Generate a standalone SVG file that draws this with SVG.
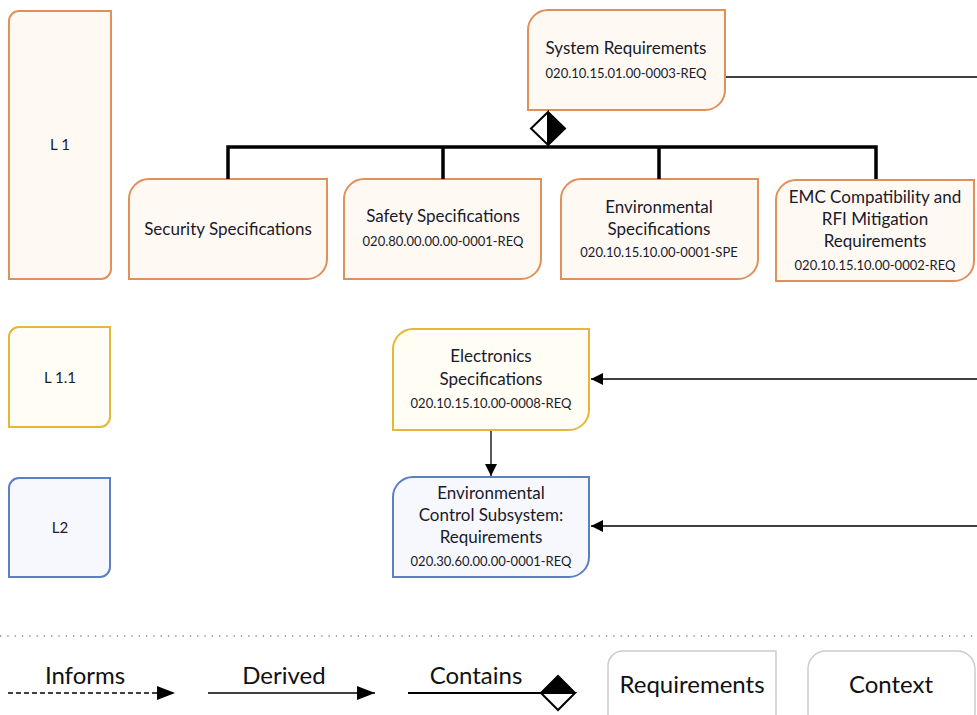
<svg xmlns="http://www.w3.org/2000/svg" width="977" height="715" viewBox="0 0 977 715">
<defs>
<style>
.l1{fill:#FFF9F4;stroke:#E0915A;stroke-width:2}
.l11{fill:#FFFDF4;stroke:#E3B73A;stroke-width:2}
.l2{fill:#F6F8FE;stroke:#5B7FC0;stroke-width:2}
text{font-family:"Lato","Open Sans",sans-serif;fill:#1a1a2a;text-anchor:middle}
.t{font-size:17px}
.c{font-size:13px}
.lv{font-size:15px}
.lg{font-size:24px;fill:#111}
.bus{fill:none;stroke:#000;stroke-width:3.5}
.thin{fill:none;stroke:#000;stroke-width:1.3}
.leg{fill:#fff;stroke:#ccc;stroke-width:1.5}
</style>
<marker id="arr" viewBox="0 0 10 10" refX="10" refY="5" markerWidth="12" markerHeight="12" markerUnits="userSpaceOnUse" orient="auto"><path d="M0,0 L10,5 L0,10 Z" fill="#000"/></marker>
<marker id="arrL" viewBox="0 0 10 10" refX="10" refY="5" markerWidth="18" markerHeight="14" markerUnits="userSpaceOnUse" orient="auto" preserveAspectRatio="none"><path d="M0,0 L10,5 L0,10 Z" fill="#000"/></marker>
</defs>

<g id="level-L1"><path class="l1" d="M19 11 H111 V269 A10 10 0 0 1 101 279 H9 V21 A10 10 0 0 1 19 11 Z"/><text class="lv" x="60" y="150">L 1</text></g>
<g id="level-L1.1"><path class="l11" d="M19 327 H110 V417 A10 10 0 0 1 100 427 H9 V337 A10 10 0 0 1 19 327 Z"/><text class="lv" x="60" y="383">L 1.1</text></g>
<g id="level-L2"><path class="l2" d="M19 478 H110 V567 A10 10 0 0 1 100 577 H9 V488 A10 10 0 0 1 19 478 Z"/><text class="lv" x="60" y="533">L2</text></g>

<g id="system-requirements"><path class="l1" d="M548 10 H725 V90 A20 20 0 0 1 705 110 H528 V30 A20 20 0 0 1 548 10 Z"/>
<text class="t" x="626" y="54">System Requirements</text><text class="c" x="626" y="78">020.10.15.01.00-0003-REQ</text></g>

<g id="security-specifications"><path class="l1" d="M149 179 H327 V259 A20 20 0 0 1 307 279 H129 V199 A20 20 0 0 1 149 179 Z"/>
<text class="t" x="228" y="235">Security Specifications</text></g>

<g id="safety-specifications"><path class="l1" d="M364 179 H541 V259 A20 20 0 0 1 521 279 H344 V199 A20 20 0 0 1 364 179 Z"/>
<text class="t" x="443" y="222">Safety Specifications</text><text class="c" x="443" y="246">020.80.00.00.00-0001-REQ</text></g>

<g id="environmental-specifications"><path class="l1" d="M581 179 H758 V259 A20 20 0 0 1 738 279 H561 V199 A20 20 0 0 1 581 179 Z"/>
<text class="t" x="659" y="213">Environmental</text><text class="t" x="659" y="235">Specifications</text><text class="c" x="659" y="257">020.10.15.10.00-0001-SPE</text></g>

<g id="emc-compatibility"><path class="l1" d="M796 180 H974 V261 A20 20 0 0 1 954 281 H776 V200 A20 20 0 0 1 796 180 Z"/>
<text class="t" x="875" y="203">EMC Compatibility and</text><text class="t" x="875" y="225">RFI Mitigation</text><text class="t" x="875" y="247">Requirements</text><text class="c" x="875" y="270">020.10.15.10.00-0002-REQ</text></g>

<g id="electronics-specifications"><path class="l11" d="M413 329 H589 V410 A20 20 0 0 1 569 430 H393 V349 A20 20 0 0 1 413 329 Z"/>
<text class="t" x="491" y="362">Electronics</text><text class="t" x="491" y="385">Specifications</text><text class="c" x="491" y="408">020.10.15.10.00-0008-REQ</text></g>

<g id="ecs-requirements"><path class="l2" d="M413 477 H589 V557 A20 20 0 0 1 569 577 H393 V497 A20 20 0 0 1 413 477 Z"/>
<text class="t" x="491" y="499">Environmental</text><text class="t" x="491" y="521">Control Subsystem:</text><text class="t" x="491" y="543">Requirements</text><text class="c" x="491" y="566">020.30.60.00.00-0001-REQ</text></g>

<g id="connectors">
<path d="M548 112 L565 128.5 L548 145 Z" fill="#000"/>
<path d="M548 112 L531 128.5 L548 145 Z" fill="#fff" stroke="#000" stroke-width="2"/>
<path d="M548 112 L565 128.5 L548 145" fill="none" stroke="#000" stroke-width="2"/>
<path class="bus" d="M228 179 V147 H876 V179 M443 147 V179 M659 147 V179"/>
<path class="thin" d="M726 77 H977"/>
<path class="thin" d="M977 379 H591" marker-end="url(#arr)"/>
<path class="thin" d="M977 526 H591" marker-end="url(#arr)"/>
<path class="thin" d="M491 431 V476" marker-end="url(#arr)"/>
</g>

<g id="legend">
<path d="M0 636 H977" stroke="#888" stroke-width="1.3" stroke-dasharray="1.3 6" fill="none"/>
<text class="lg" x="85" y="684">Informs</text>
<path d="M8 693 H175" stroke="#000" stroke-width="1.3" stroke-dasharray="5 3" fill="none" marker-end="url(#arrL)"/>
<text class="lg" x="284" y="684">Derived</text>
<path d="M208 693 H375" class="thin" marker-end="url(#arrL)"/>
<text class="lg" x="476" y="684">Contains</text>
<path d="M408 693 H541" stroke="#000" stroke-width="2" fill="none"/>
<path d="M541 693 L558 676 L575 693 Z" fill="#000"/>
<path d="M541 693 L558 710 L575 693 Z" fill="#fff" stroke="#000" stroke-width="2"/>
<path d="M541 693 L558 676 L575 693" fill="none" stroke="#000" stroke-width="2"/>
<g id="legend-requirements"><path class="leg" d="M623 651 H776 V720 H608 V666 A15 15 0 0 1 623 651 Z"/><text class="lg" x="692" y="693">Requirements</text></g>
<g id="legend-context"><rect class="leg" x="808" y="651" width="167" height="80" rx="18"/><text class="lg" x="891" y="693">Context</text></g>
</g>
</svg>
